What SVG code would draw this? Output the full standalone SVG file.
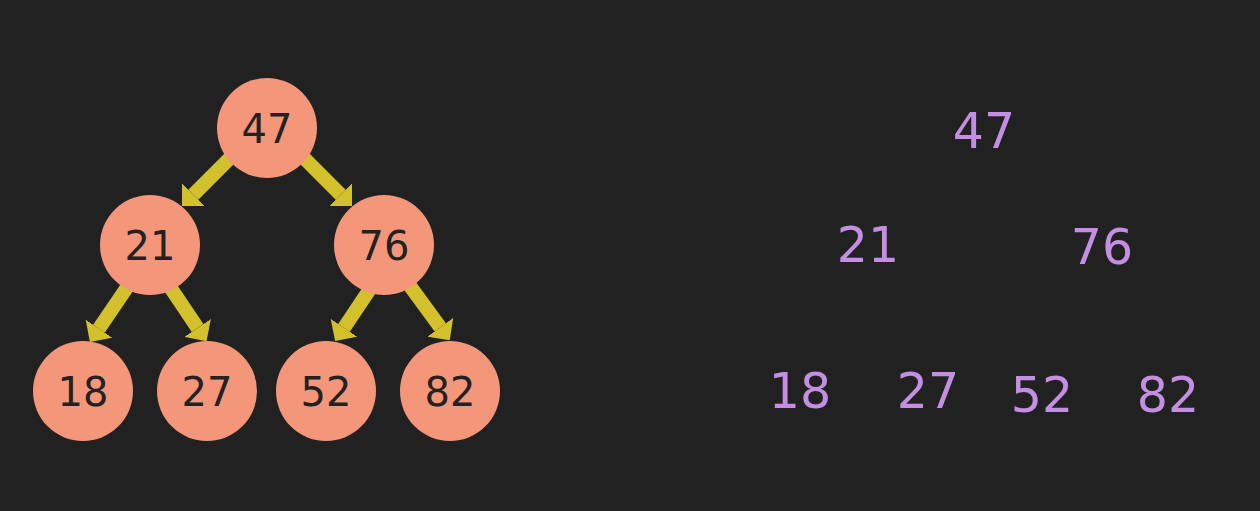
<svg xmlns="http://www.w3.org/2000/svg" width="1260" height="511" viewBox="0 0 1260 511">
<style>
.node circle{fill:#f4967a}
.node text{font-family:"DejaVu Sans",sans-serif;font-size:40px;fill:#222;text-anchor:middle}
.lbl{font-family:"DejaVu Sans",sans-serif;font-size:49px;fill:#c48fe2;text-anchor:middle}
.edge{stroke:#d3c02d;stroke-width:14;fill:none;marker-end:url(#ah)}
</style>
<defs>
<marker id="ah" viewBox="0 0 16 32" refX="0" refY="16" markerWidth="16" markerHeight="32" markerUnits="userSpaceOnUse" orient="auto">
<path d="M0,0 L16,16 L0,32 Z" fill="#d3c02d"/>
</marker>
</defs>
<rect width="1260" height="511" fill="#212121"/>
<g id="connectors">
<line class="edge" x1="234" y1="154" x2="193.3" y2="194.7"/>
<line class="edge" x1="300" y1="154" x2="340.7" y2="194.7"/>
<line class="edge" x1="130" y1="283" x2="98.9" y2="328.7"/>
<line class="edge" x1="168" y1="284" x2="197.6" y2="328"/>
<line class="edge" x1="372" y1="286" x2="344" y2="327.8"/>
<line class="edge" x1="410" y1="286" x2="440.3" y2="327.3"/>
</g>
<g id="n47" class="node"><circle cx="267" cy="128" r="50"/><text x="267" y="143">47</text></g>
<g id="n21" class="node"><circle cx="150" cy="245" r="50"/><text x="150" y="260">21</text></g>
<g id="n76" class="node"><circle cx="384" cy="245" r="50"/><text x="384" y="260">76</text></g>
<g id="n18" class="node"><circle cx="83" cy="391" r="50"/><text x="83" y="406">18</text></g>
<g id="n27" class="node"><circle cx="207" cy="391" r="50"/><text x="207" y="406">27</text></g>
<g id="n52" class="node"><circle cx="326" cy="391" r="50"/><text x="326" y="406">52</text></g>
<g id="n82" class="node"><circle cx="450" cy="391" r="50"/><text x="450" y="406">82</text></g>
<g id="labels">
<text class="lbl" x="984" y="148">47</text>
<text class="lbl" x="868" y="262">21</text>
<text class="lbl" x="1102" y="264">76</text>
<text class="lbl" x="800" y="408">18</text>
<text class="lbl" x="928" y="408">27</text>
<text class="lbl" x="1042" y="412">52</text>
<text class="lbl" x="1168" y="412">82</text>
</g>
</svg>
